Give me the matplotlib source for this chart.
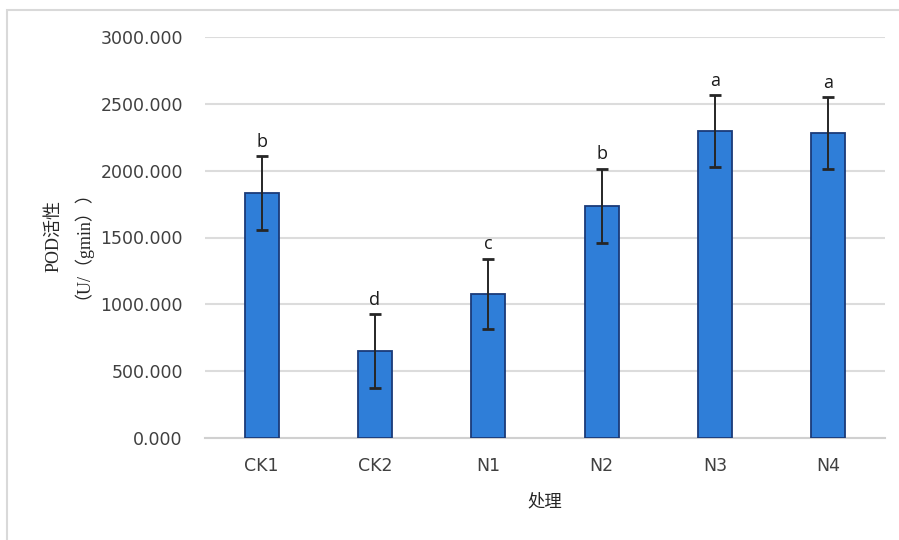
import matplotlib
matplotlib.use("Agg")
import matplotlib.pyplot as plt
from matplotlib.patches import Rectangle

# Treatment groups and POD activity
categories = ["CK1", "CK2", "N1", "N2", "N3", "N4"]
pod_mean = [1833, 651, 1077, 1736, 2297, 2282]
pod_err = [277, 277, 265, 280, 270, 270]
sig_letters = ["b", "d", "c", "b", "a", "a"]
y_ticks = [0, 500, 1000, 1500, 2000, 2500, 3000]

plt.rcParams["font.family"] = ["DejaVu Sans", "Noto Sans CJK SC"]

fig = plt.figure(figsize=(8.99, 5.40), dpi=100)
fig.patch.set_facecolor("white")

# light outer frame of the chart area
fig.patches.append(Rectangle((7 / 899, -0.05), 1.2, 1 - 10 / 540 + 0.05,
                             transform=fig.transFigure, fill=False,
                             edgecolor="#d9d9d9", linewidth=1.5, zorder=0))

ax = fig.add_axes([205 / 899, 1 - 438 / 540, 680 / 899, 401 / 540])
x = list(range(len(categories)))

ax.bar(x, pod_mean, width=0.3, color="#2f7ed8", edgecolor="#1a3a78",
       linewidth=1.3, zorder=3)
ax.errorbar(x, pod_mean, yerr=pod_err, fmt="none", ecolor="#262626",
            elinewidth=1.4, capsize=4.5, capthick=2, zorder=4)

for xi, m, e, s in zip(x, pod_mean, pod_err, sig_letters):
    ax.text(xi, m + e + 40, s, ha="center", va="bottom", fontsize=13,
            color="#1a1a1a", family=["Open Sans", "DejaVu Sans"])

ax.set_xlim(-0.5, len(categories) - 0.5)
ax.set_ylim(0, 3000)
ax.set_yticks(y_ticks)
ax.set_yticklabels([f"{v:.3f}" for v in y_ticks])
ax.set_xticks(x)
ax.set_xticklabels(categories)
ax.tick_params(axis="both", length=0, labelsize=12.5, labelcolor="#404040")
ax.tick_params(axis="y", pad=16)
ax.tick_params(axis="x", pad=14)

ax.grid(axis="y", color="#dcdcdc", linewidth=1.5, zorder=0)
ax.set_axisbelow(True)
for side in ["top", "right", "left"]:
    ax.spines[side].set_visible(False)
ax.spines["bottom"].set_color("#d0d0d0")
ax.spines["bottom"].set_linewidth(1.5)

ax.set_xlabel("处理", fontsize=12.5, color="#262626", labelpad=12,
              family=["Noto Sans CJK SC", "DejaVu Sans"])
fig.text(64 / 899, 1 - 236 / 540, "POD活性\n（U/（gmin））", rotation=90,
         ha="center", va="center", fontsize=13, color="#262626",
         linespacing=1.05, family=["Liberation Serif", "Noto Sans CJK SC"])

fig.savefig("out.png", dpi=100, facecolor="white")
